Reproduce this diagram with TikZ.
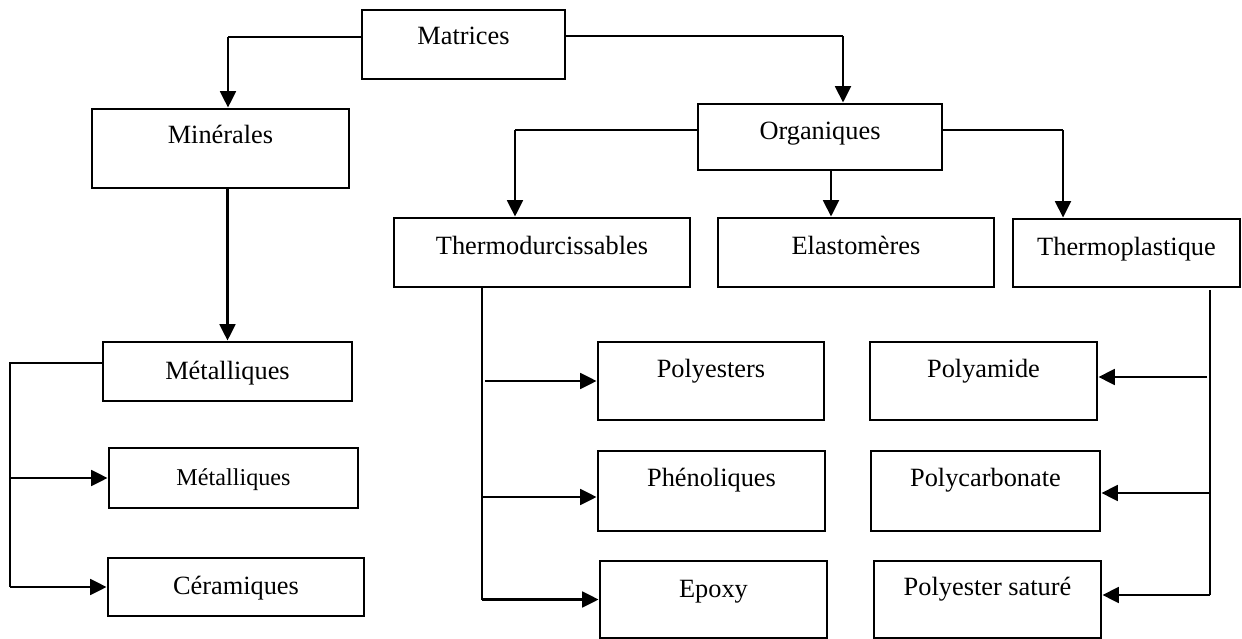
\documentclass[tikz,border=0pt]{standalone}
\usepackage{fontspec}
\setmainfont{Liberation Serif}
\usetikzlibrary{arrows.meta}
\newcommand{\pxu}{0.016cm}
\tikzset{
  box/.style={draw, line width=1.3pt, inner sep=0pt, text height=0.7em,
    font=\fontsize{12}{14}\selectfont},
  link/.style={line width=0.55pt},
  arrow/.style={line width=1.1pt, -{Triangle[length=7.5pt,width=7.2pt]}},
}
\begin{document}
\begin{tikzpicture}[x=\pxu, y=-\pxu]
\useasboundingbox (0,0) rectangle (1242,639);
% Boxes
\node[box, minimum width=203*\pxu, minimum height=69*\pxu, text depth=6.8pt] (matrices) at (463.5,44.5) {Matrices};
\node[box, minimum width=257*\pxu, minimum height=79*\pxu, text depth=11.4pt] (minerales) at (220.5,148.5) {Minérales};
\node[box, minimum width=244*\pxu, minimum height=66*\pxu, text depth=4.5pt] (organiques) at (820,137) {Organiques};
\node[box, minimum width=296*\pxu, minimum height=69*\pxu, text depth=5pt] (thermodur) at (542,252.5) {Thermodurcissables};
\node[box, minimum width=276*\pxu, minimum height=69*\pxu, text depth=5pt] (elasto) at (856,252.5) {Elastomères};
\node[box, minimum width=227*\pxu, minimum height=68*\pxu, text depth=4.5pt] (thermoplast) at (1126.5,253) {Thermoplastique};
\node[box, minimum width=249*\pxu, minimum height=59*\pxu, text depth=0pt] (metal1) at (227.5,371.5) {Métalliques};
\node[box, minimum width=249*\pxu, minimum height=60*\pxu, text depth=0pt, font=\fontsize{11}{13}\selectfont] (metal2) at (233.5,478) {Métalliques};
\node[box, minimum width=256*\pxu, minimum height=58*\pxu, text depth=0pt] (ceram) at (236,587) {Céramiques};
\node[box, minimum width=226*\pxu, minimum height=78*\pxu, text depth=10pt] (polyesters) at (711,381) {Polyesters};
\node[box, minimum width=227*\pxu, minimum height=80*\pxu, text depth=10.9pt] (phenol) at (711.5,491) {Phénoliques};
\node[box, minimum width=227*\pxu, minimum height=77*\pxu, text depth=8.6pt] (epoxy) at (713.5,599.5) {Epoxy};
\node[box, minimum width=227*\pxu, minimum height=78*\pxu, text depth=10pt] (polyamide) at (983.5,381) {Polyamide};
\node[box, minimum width=229*\pxu, minimum height=80*\pxu, text depth=10.9pt] (polycarb) at (985.5,491) {Polycarbonate};
\node[box, minimum width=227*\pxu, minimum height=77*\pxu, text depth=10.9pt] (polysat) at (987.5,599.5) {Polyester saturé};
% Junctions
\coordinate (jml) at (228,37);
\coordinate (jmr) at (843,36);
\coordinate (jol) at (515,130);
\coordinate (jor) at (1063,130);
\coordinate (jme) at (10,363);
\coordinate (jtd) at (482,287);
\coordinate (jtp) at (1210,290);
% Top levels
\draw[link] (matrices.west |- jml) -- (jml);
\draw[arrow] (jml) -- (jml |- minerales.north);
\draw[link] (matrices.east |- jmr) -- (jmr);
\draw[arrow] (jmr) -- (jmr |- organiques.north);
\draw[link] (organiques.west |- jol) -- (jol);
\draw[arrow] (jol) -- (jol |- thermodur.north);
\draw[link] (organiques.east |- jor) -- (jor);
\draw[arrow] (jor) -- (jor |- thermoplast.north);
\draw[arrow] (organiques.south -| 831,0) -- (elasto.north -| 831,0);
\draw[arrow] (metal1.north |- minerales.south) -- (metal1.north);
% Left column
\draw[link] (metal1.west |- jme) -- (jme) -- (jme |- ceram.west);
\draw[arrow] (jme |- metal2.west) -- (metal2.west);
\draw[arrow] (jme |- ceram.west) -- (ceram.west);
% Thermodurcissables
\draw[link] (jtd) -- (jtd |- epoxy.west);
\draw[arrow] ([xshift=3*\pxu]jtd |- polyesters.west) -- (polyesters.west);
\draw[arrow] (jtd |- 0,497) -- (phenol.west |- 0,497);
\draw[arrow] (jtd |- epoxy.west) -- (epoxy.west);
% Thermoplastique
\draw[link] (jtp) -- (jtp |- 0,595);
\draw[arrow] ([xshift=-3*\pxu]jtp |- 0,377) -- (polyamide.east |- 0,377);
\draw[arrow] (jtp |- 0,493) -- (polycarb.east |- 0,493);
\draw[arrow] (jtp |- 0,595) -- (polysat.east |- 0,595);
\end{tikzpicture}
\end{document}
